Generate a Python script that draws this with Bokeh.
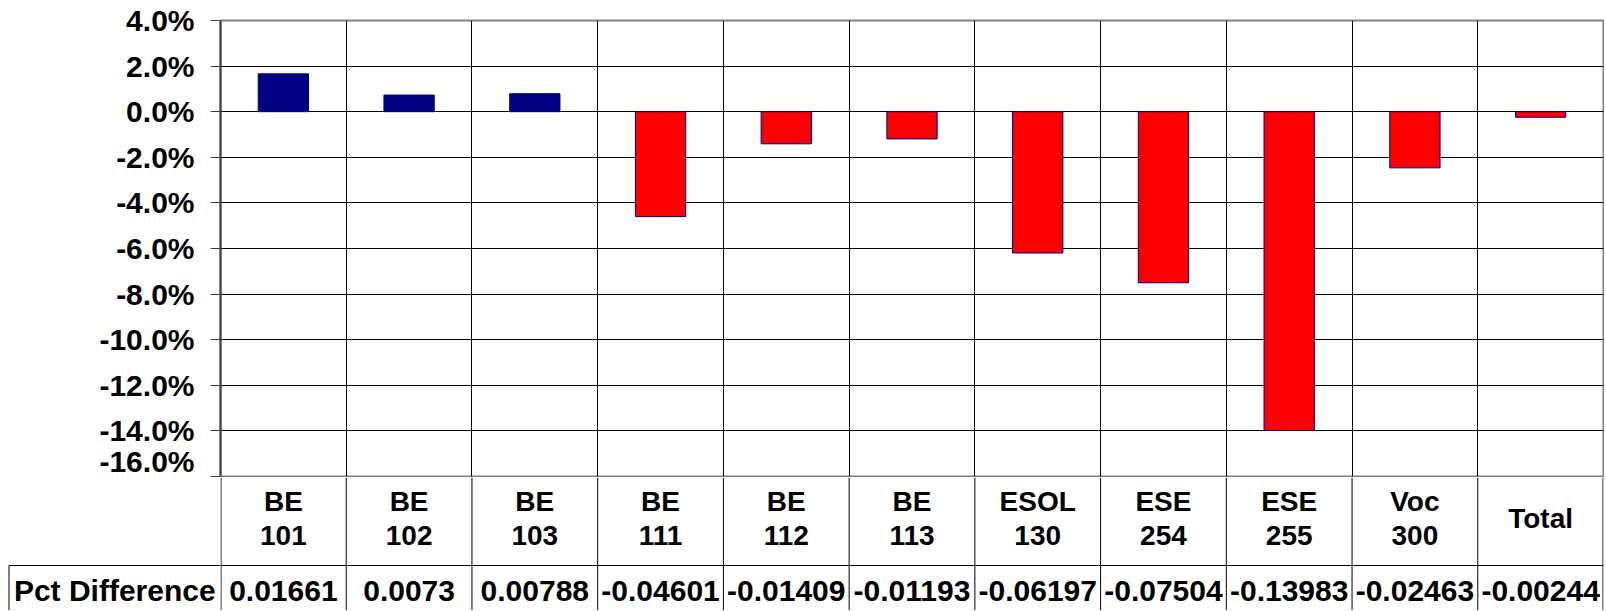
from bokeh.plotting import figure
from bokeh.layouts import column, row
from bokeh.models import ColumnDataSource, Range1d, FixedTicker, NumeralTickFormatter
from bokeh.core.properties import value
from bokeh.embed import file_html
from bokeh.resources import INLINE

# ---------------- data ----------------
categories = ["BE 101", "BE 102", "BE 103", "BE 111", "BE 112", "BE 113",
              "ESOL 130", "ESE 254", "ESE 255", "Voc 300", "Total"]
pct_diff = [0.01661, 0.0073, 0.00788, -0.04601, -0.01409, -0.01193,
            -0.06197, -0.07504, -0.13983, -0.02463, -0.00244]
y_ticks = [0.04, 0.02, 0.0, -0.02, -0.04, -0.06, -0.08, -0.10, -0.12, -0.14, -0.16]
row_header = "Pct Difference"

# ---------------- layout constants (pixels) ----------------
W = 1604
FRAME_L = 220
FRAME_R = 1603
TOP = 20
FRAME_H = 456
A_H = TOP + FRAME_H + 1
B_H = 133
TABLE_H = 45
FONT = value("Liberation Sans")

n = len(categories)
centers = [i + 0.5 for i in range(n)]
bounds = list(range(n + 1))
pos_color = "#000080"
neg_color = "#FF0000"
colors = [pos_color if v >= 0 else neg_color for v in pct_diff]

# ---------------- chart ----------------
A = figure(width=W, height=A_H, x_range=Range1d(0, n),
           y_range=Range1d(y_ticks[-1], y_ticks[0]),
           output_backend="svg", toolbar_location=None, x_axis_location=None,
           min_border_left=FRAME_L, min_border_right=W - FRAME_R,
           min_border_top=TOP, min_border_bottom=1)
A.background_fill_color = "white"
A.border_fill_color = "white"
A.outline_line_color = "#808080"
A.outline_line_width = 2

A.xgrid.ticker = FixedTicker(ticks=bounds[1:-1])
A.xgrid.grid_line_color = "black"
A.xgrid.grid_line_width = 1

A.yaxis.ticker = FixedTicker(ticks=y_ticks)
A.yaxis.formatter = NumeralTickFormatter(format="0.0%")
A.yaxis.axis_line_color = "#404040"
A.yaxis.axis_line_width = 2
A.yaxis.major_tick_line_color = "#404040"
A.yaxis.major_tick_out = 10
A.yaxis.major_tick_in = 0
A.yaxis.minor_tick_out = 0
A.yaxis.minor_tick_in = 0
A.yaxis.major_label_text_font = "Liberation Sans"
A.yaxis.major_label_text_font_style = "bold"
A.yaxis.major_label_text_font_size = "30px"
A.yaxis.major_label_text_color = "black"
A.yaxis.major_label_standoff = 16
A.ygrid.grid_line_color = "black"
A.ygrid.grid_line_width = 1

src = ColumnDataSource(dict(x=centers, cat=categories, val=pct_diff, color=colors))
A.vbar(x="x", top="val", bottom=0, width=0.4, fill_color="color",
       line_color="#000080", line_width=1, source=src)

# ---------------- header cell (left of the category columns) ----------------
H = figure(width=FRAME_L, height=B_H, x_range=Range1d(0, FRAME_L), y_range=Range1d(0, B_H),
           output_backend="svg", toolbar_location=None,
           x_axis_location=None, y_axis_location=None, min_border=0)
H.outline_line_color = None
H.background_fill_color = "white"
H.border_fill_color = "white"
for g in list(H.xgrid) + list(H.ygrid):
    g.visible = False
H.segment(x0=[8.5, 8.5], y0=[0, TABLE_H], x1=[8.5, FRAME_L], y1=[TABLE_H, TABLE_H],
          line_color="black", line_width=1)
table_y = TABLE_H - 25
H.text(x=[(8.5 + FRAME_L) / 2], y=[table_y], text=[row_header],
       text_align="center", text_baseline="middle", text_font=FONT,
       text_font_style="bold", text_font_size="30px", text_color="black")

# ---------------- category labels + data table ----------------
ppu = (FRAME_R - FRAME_L) / n          # pixels per category cell
B = figure(width=W - FRAME_L, height=B_H, x_range=Range1d(0, n), y_range=Range1d(0, B_H),
           output_backend="svg", toolbar_location=None,
           x_axis_location=None, y_axis_location=None,
           min_border_left=0, min_border_right=W - FRAME_R,
           min_border_top=0, min_border_bottom=0)
B.outline_line_color = None
B.background_fill_color = "white"
B.border_fill_color = "white"
for g in list(B.xgrid) + list(B.ygrid):
    g.visible = False

edge = 0.5 / ppu
vx = [edge] + bounds[1:-1] + [n - edge]
B.segment(x0=vx, y0=[0] * len(vx), x1=vx, y1=[B_H] * len(vx),
          line_color="black", line_width=1)
B.segment(x0=[0], y0=[TABLE_H], x1=[n], y1=[TABLE_H],
          line_color="black", line_width=1)

label_mid = TABLE_H + (B_H - TABLE_H) / 2 + 3
B.text(x=centers, y=[label_mid] * n, text=[c.replace(" ", "\n") for c in categories],
       text_align="center", text_baseline="middle", text_font=FONT,
       text_font_style="bold", text_font_size="28px", text_line_height=1.1,
       text_color="black")
B.text(x=centers, y=[table_y] * n, text=[str(v) for v in pct_diff],
       text_align="center", text_baseline="middle", text_font=FONT,
       text_font_style="bold", text_font_size="30px", text_color="black")

layout = column(A, row(H, B, spacing=0), spacing=0)
open("out.html", "w").write(file_html(layout, INLINE))
